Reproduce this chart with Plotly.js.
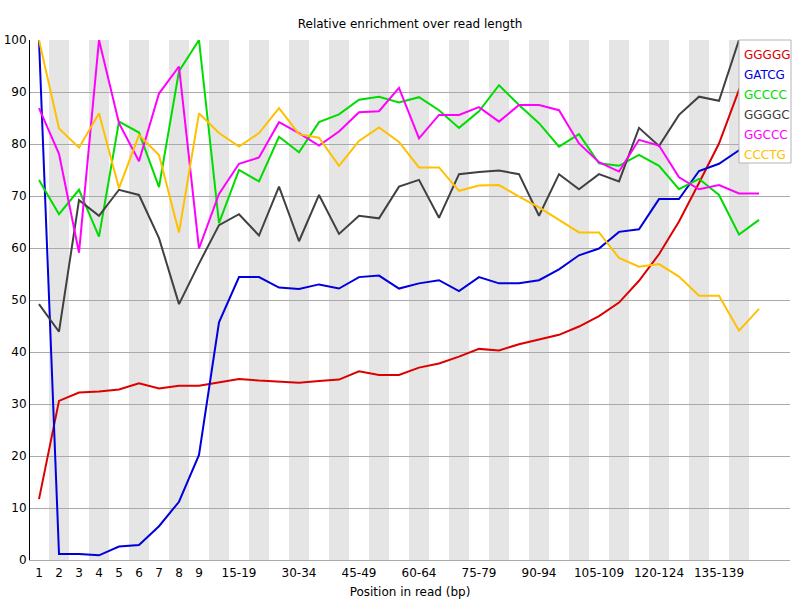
<!DOCTYPE html>
<html>
<head>
<meta charset="utf-8">
<script src="https://cdn.plot.ly/plotly-3.0.1.min.js"></script>
<style>html,body{margin:0;padding:0;background:#fff}#chart{width:800px;height:600px}</style>
</head>
<body>
<div id="chart"></div>
<script>
var categories = ['1','2','3','4','5','6','7','8','9','10-14','15-19','20-24','25-29','30-34','35-39','40-44','45-49','50-54','55-59','60-64','65-69','70-74','75-79','80-84','85-89','90-94','95-99','100-104','105-109','110-114','115-119','120-124','125-129','130-134','135-139','140-144','145-149'];
var shownTicks = ['1','2','3','4','5','6','7','8','9','15-19','30-34','45-49','60-64','75-79','90-94','105-109','120-124','135-139'];
var seriesNames = ['GGGGG','GATCG','GCCCC','GGGGC','GGCCC','CCCTG'];

var GGGGG = [11.7,30.6,32.2,32.4,32.8,34.0,33.0,33.5,33.5,34.2,34.8,34.5,34.3,34.1,34.4,34.7,36.3,35.6,35.6,37.0,37.8,39.1,40.6,40.3,41.5,42.4,43.3,44.9,46.9,49.5,53.7,58.8,65.1,72.5,80.1,90.4,100];
var GATCG = [100,1.15,1.15,0.9,2.6,2.9,6.5,11.2,20.2,45.7,54.4,54.4,52.4,52.1,53.0,52.2,54.4,54.7,52.2,53.2,53.8,51.7,54.4,53.2,53.2,53.8,55.9,58.6,59.9,63.1,63.6,69.4,69.4,74.8,76.2,78.8,82.0];
var GCCCC = [73.1,66.5,71.2,62.2,84.3,82.2,71.7,94.0,100,64.8,75.0,72.8,81.4,78.4,84.2,85.7,88.5,89.1,88.0,89.0,86.5,83.1,86.3,91.3,87.5,84.0,79.5,81.9,76.3,75.8,77.9,75.8,71.3,73.3,70.2,62.6,65.4];
var GGGGC = [49.2,43.9,69.2,66.2,71.2,70.2,61.9,49.2,57.0,64.4,66.5,62.4,71.8,61.3,70.2,62.7,66.2,65.7,71.8,73.1,65.8,74.2,74.6,74.9,74.2,66.2,74.2,71.3,74.2,72.8,83.1,79.6,85.6,89.1,88.3,100,95.0];
var GGCCC = [86.9,78.1,59.1,100,84.0,76.7,89.7,94.9,59.9,70.4,76.2,77.4,84.2,82.1,79.7,82.4,86.1,86.3,90.8,81.1,85.6,85.6,87.1,84.3,87.5,87.5,86.5,80.1,76.5,74.7,80.8,79.7,73.6,71.3,72.1,70.5,70.5];
var CCCTG = [100,83.0,79.3,85.9,71.5,81.7,77.9,63.0,85.9,82.1,79.5,82.1,86.9,81.9,81.2,75.8,80.6,83.2,80.4,75.5,75.5,71.0,72.0,72.1,69.9,67.8,65.4,63.0,63.0,58.1,56.4,56.9,54.5,50.8,50.8,44.1,48.3];

var seriesValues = [GGGGG,GATCG,GCCCC,GGGGC,GGCCC,CCCTG];
var colors = ['rgb(220,0,0)','rgb(0,0,220)','rgb(0,220,0)','rgb(64,64,64)','rgb(255,0,255)','rgb(255,192,0)'];

var traces = seriesNames.map(function(n,i){
  return {x: categories, y: seriesValues[i], type:'scatter', mode:'lines', name:n,
          line:{color:colors[i], width:2}, showlegend:false, hoverinfo:'skip'};
});

var shapes = [];
for (var i = 1; i < categories.length; i += 2) {
  shapes.push({type:'rect', xref:'x', yref:'paper', x0:i-0.5, x1:i+0.5, y0:0, y1:1,
               fillcolor:'rgb(229,229,229)', line:{width:0}, layer:'below'});
}
// legend box
shapes.push({type:'rect', xref:'paper', yref:'paper', x0:(739-30)/760, x1:(791-30)/760,
             y0:(560-163)/520, y1:1, fillcolor:'white', line:{color:'rgb(180,180,180)', width:1}, layer:'above'});

var annotations = seriesNames.map(function(n,i){
  return {xref:'paper', yref:'paper', x:(742-30)/760, y:(560-(55+20*i))/520, xanchor:'left', yanchor:'middle',
          text:n, showarrow:false, font:{family:'DejaVu Sans', size:12, color:colors[i]}};
});

var layout = {
  width:800, height:600,
  margin:{l:30, r:10, t:40, b:40},
  paper_bgcolor:'white', plot_bgcolor:'white',
  font:{family:'DejaVu Sans', size:12, color:'black'},
  title:{text:'Relative enrichment over read length', x:0.5, xref:'paper', y:1-24/600, yref:'container', yanchor:'middle',
         font:{family:'DejaVu Sans', size:12, color:'black'}},
  xaxis:{type:'category', range:[-0.45, 37.55], tickmode:'array', tickvals:shownTicks, ticktext:shownTicks,
         showgrid:false, zeroline:false, showline:true, linecolor:'rgb(170,170,170)', linewidth:1,
         ticks:'', ticklabelstandoff:2, tickfont:{family:'DejaVu Sans', size:12, color:'black'},
         title:{text:'Position in read (bp)', standoff:8, font:{family:'DejaVu Sans', size:12, color:'black'}}},
  yaxis:{range:[0,100], tickmode:'array', tickvals:[0,10,20,30,40,50,60,70,80,90,100],
         showgrid:true, gridcolor:'rgb(170,170,170)', gridwidth:1, zeroline:false,
         showline:true, linecolor:'black', linewidth:1, ticks:'',
         tickfont:{family:'DejaVu Sans', size:12, color:'black'}},
  shapes:shapes,
  annotations:annotations
};

Plotly.newPlot('chart', traces, layout, {displayModeBar:false, staticPlot:true});
</script>
</body>
</html>
